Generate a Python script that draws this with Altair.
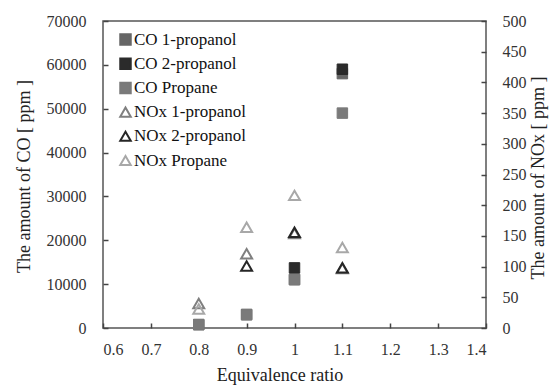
import altair as alt
import pandas as pd

# Equivalence ratios
x_vals = [0.8, 0.9, 1.0, 1.1]

# CO [ppm] (left axis)
co_1propanol = [750, 3100, 11000, 58000]
co_2propanol = [None, None, 13700, 59000]
co_propane = [800, 3000, 11100, 49000]

# NOx [ppm] (right axis)
nox_1propanol = [40, 121, 154, 97]
nox_2propanol = [None, 101, 156, 98]
nox_propane = [31, 164, 216, 131]

series_names = ["CO 1-propanol", "CO 2-propanol", "CO Propane",
                "NOx 1-propanol", "NOx 2-propanol", "NOx Propane"]
stroke_colors = ["#666666", "#2b2b2b", "#7a7a7a", "#7f7f7f", "#262626", "#a8a8a8"]
fill_colors = ["#666666", "#2b2b2b", "#7a7a7a", "transparent", "transparent", "transparent"]
shapes = ["square", "square", "square", "triangle-up", "triangle-up", "triangle-up"]

x_ticks = [0.6, 0.7, 0.8, 0.9, 1.0, 1.1, 1.2, 1.3, 1.4]
co_ticks = [0, 10000, 20000, 30000, 40000, 50000, 60000, 70000]
nox_ticks = [0, 50, 100, 150, 200, 250, 300, 350, 400, 450, 500]


def long(name, vals):
    return [{"x": xv, "value": v, "series": name} for xv, v in zip(x_vals, vals) if v is not None]


co_df = pd.DataFrame(long("CO 1-propanol", co_1propanol)
                     + long("CO Propane", co_propane)
                     + long("CO 2-propanol", co_2propanol))
nox_df = pd.DataFrame(long("NOx 1-propanol", nox_1propanol)
                      + long("NOx Propane", nox_propane)
                      + long("NOx 2-propanol", nox_2propanol))

FONT = "'Liberation Serif', 'Times New Roman', 'DejaVu Serif', serif"

legend = alt.Legend(orient="none", legendX=14, legendY=10, title=None,
                    labelFont=FONT, labelFontSize=17, labelColor="#111111",
                    symbolSize=110, symbolStrokeWidth=2, rowPadding=5.2,
                    labelOffset=0, padding=0)

x_enc = alt.X("x:Q", scale=alt.Scale(domain=[0.6, 1.4], nice=False, zero=False),
              axis=alt.Axis(values=x_ticks, format="~g", title="Equivalence ratio",
                            domain=False, offset=-5, tickSize=5, tickWidth=1.5,
                            tickColor="#444444", labelPadding=13, labelFont=FONT,
                            labelFontSize=16, labelColor="#333333", grid=False,
                            titleFont=FONT, titleFontSize=18, titleFontWeight="normal",
                            titleColor="#222222", titleX=176.5, titleY=52,
                            titleBaseline="middle"))

common = dict(
    shape=alt.Shape("series:N", scale=alt.Scale(domain=series_names, range=shapes), legend=legend),
    stroke=alt.Stroke("series:N", scale=alt.Scale(domain=series_names, range=stroke_colors), legend=legend),
    fill=alt.Fill("series:N", scale=alt.Scale(domain=series_names, range=fill_colors), legend=legend),
)

co_layer = alt.Chart(co_df).mark_point(size=110, strokeWidth=1, opacity=1).encode(
    x=x_enc,
    y=alt.Y("value:Q", scale=alt.Scale(domain=[0, 70000], nice=False),
            axis=alt.Axis(values=co_ticks, format="d", title="The amount of CO [ ppm ]",
                          orient="left", domain=False, offset=-5, tickSize=5, tickWidth=1.5,
                          tickColor="#444444", labelPadding=17, labelFont=FONT,
                          labelFontSize=16, labelColor="#333333", grid=False,
                          titleFont=FONT, titleFontSize=18, titleFontWeight="normal",
                          titleColor="#222222", titleAngle=270, titleX=-84, titleY=155,
                          titleBaseline="middle", titleAlign="center")),
    **common,
)

nox_layer = alt.Chart(nox_df).mark_point(size=120, strokeWidth=2, opacity=1).encode(
    x=x_enc,
    y=alt.Y("value:Q", scale=alt.Scale(domain=[0, 500], nice=False),
            axis=alt.Axis(values=nox_ticks, format="d", title="The amount of NOx [ ppm ]",
                          orient="right", domain=False, offset=-5, tickSize=5, tickWidth=1.5,
                          tickColor="#444444", labelPadding=16, labelFont=FONT,
                          labelFontSize=16, labelColor="#333333", grid=False,
                          titleFont=FONT, titleFontSize=18, titleFontWeight="normal",
                          titleColor="#222222", titleAngle=270, titleX=57.5, titleY=156.5,
                          titleBaseline="middle", titleAlign="center")),
    **common,
)

chart = alt.layer(co_layer, nox_layer).resolve_scale(
    y="independent", shape="shared", stroke="shared", fill="shared"
).properties(
    width=383, height=307,
    autosize=alt.AutoSizeParams(type="none"),
    padding={"left": 103, "top": 21, "right": 74, "bottom": 57},
    background="white",
).configure_view(stroke="#555555", strokeWidth=1.5)

chart.save("out.html", embed_options={"renderer": "svg", "actions": False})
